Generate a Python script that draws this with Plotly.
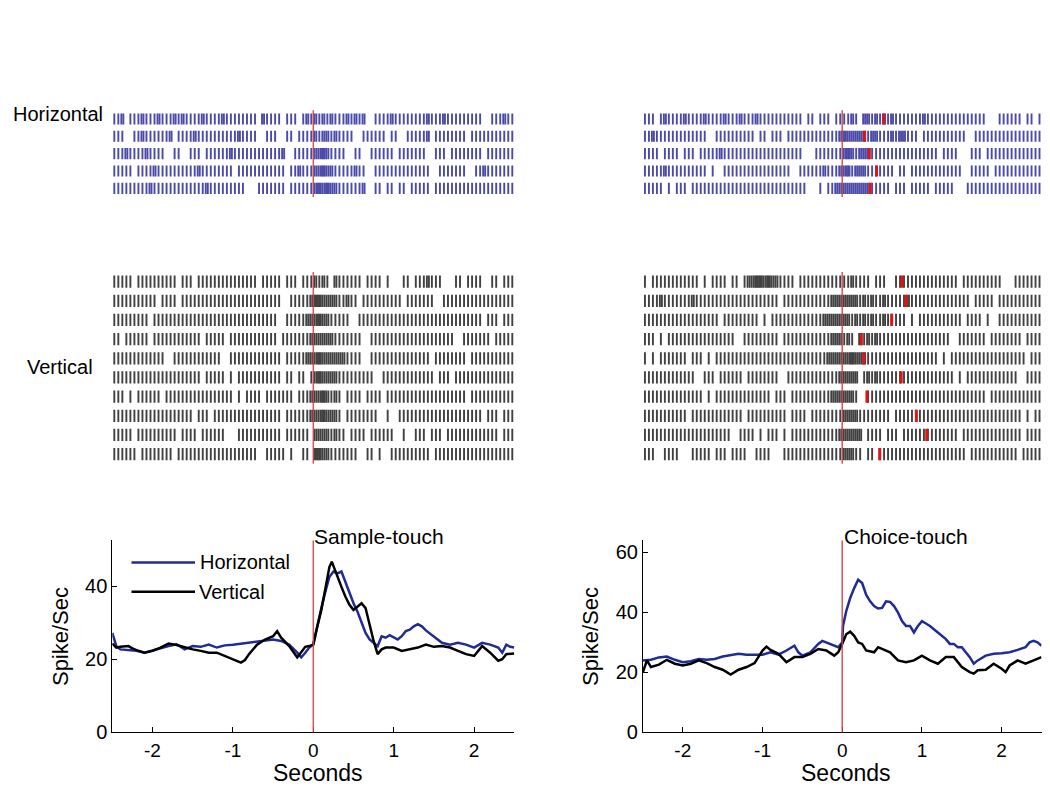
import plotly.graph_objects as go

# page is 1050x800; the HTML body adds an 8px margin, so the figure is offset by 8px
OFF = 8
FW, FH = 1034, 784
BIN = 0.05          # raster bin width (s); each char = spike count in bin
T0 = -2.5

# ---------------- raster data (spike counts per 50 ms bin, -2.5 .. 2.5 s) ----------------
sample_horizontal = [
    "1120111211121112121111211 1121111111102111101110121 2121211121212001111211111 1112111211111111100111211",
    "1110011211111120111121111 1111112111100111001101111 2122121111001111110110011 1112011111111011111111111",
    "1112111121111001100111011 1111211111111111120011111 2232111100110011111101111 1110011101111111101111111",
    "1111101111211111111112111 1111101111111111110112111 2232211111211001111111111 1111001111111001121111111",
    "1111111112111111111111121 1111111100011111110111111 2323221111112001101101101 1111011111111111111111111",
]
choice_horizontal = [
    "1110121111211112111121112 1112111111111110110111011 1121022121212111111121111 1111111111100011111101101",
    "1121111111111111001111111 1110110111011111111111112 3222221221112122111011111 1111110011111111111111111",
    "1111011110111011111211111 1111111111111110001111111 2321222111111111111111110 1111000111011111111111111",
    "1111121111111111010011111 1111111111110011111121112 2312221111111011011111111 1111100111110111111111111",
    "1111101011101111111111111 1111111111111111000101122 2222222111110111011111011 1110001111111111111111111",
]
sample_vertical = [
    "1111101111111111011101111 1111111111101111101110111 2121021111110111101000110 1112111000110111100110111",
    "1111111111101111011111111 1111111111111111100111112 3322221121101111111111011 1111100111111111111111111",
    "1111111110111111111111111 1111111111111111001111122 2322111110011111111111111 1111111111111111101110111",
    "1101111110111111111111011 1110111111111111011111112 2222211111110011111111111 1111111111001111111011111",
    "1111111111111001111111111 1100111111111111101111122 2322222211110011111111111 1111011111111011111111111",
    "1111111111111111111111011 1110101111111111101101101 2322221111111110011111111 1111101110111111111111111",
    "1110101111110111111111111 1111101011110111111101112 2232121011110111101111111 1111111111111011111111111",
    "1111111111111111111101110 1111111111111111101111112 2232221011111111001001111 1111111111111111101110111",
    "1111101111111111011110111 1110001111111111101111110 2222121101111011111100100 1110111011111111111110111",
    "1111110111111110111111111 1111111111100111110100110 3322111111100110100111111 1111011111111111111111111",
]
choice_vertical = [
    "1011111111111101011110110 1223323221111011111111111 1121111011100111111111111 1111011111111110001111111",
    "1111211111112111111111111 1111111110111111111111222 2222121211211111211111111 1111111011111011111111111",
    "1111111111111111111011111 1111010111111111111122222 2212121211211111010111111 1111101111010011111111111",
    "1110101111111111111111100 1111111110111111111111222 1210212121111111111111111 1100111111101111111101111",
    "1010111111101110101111111 1111111111111111111112222 2232221111111111111111110 1011111111111111111110111",
    "1111111111111001110111111 0111111110011111111111112 2222012121111111111111111 1110101111111111111001111",
    "1111111111111110101111111 1111111011101111111111222 2221001111111111111111111 1111111111101111111111111",
    "1111111111101111111111111 0111111111101111011111111 2222111111110111111111111 1111111111111111111101011",
    "1111111111111111111111001 1110101110101111111111112 2222201111011101111111111 1111011111111111111101111",
    "1110011110001111101110111 1001111000111111111111111 2221101101111111111111111 1111110111111111111011111",
]
# times (s) of the red-marked events in the choice rasters, one per trial
choice_horizontal_marks = [0.52, 0.28, 0.34, 0.43, 0.35]
choice_vertical_marks = [0.75, 0.80, 0.62, 0.24, 0.27, 0.74, 0.31, 0.93, 1.06, 0.47]

# ---------------- PSTH data (spikes/s) ----------------
sample_h_t = [-2.5, -2.45, -2.4, -2.3, -2.2, -2.1, -2.0, -1.9, -1.8, -1.7, -1.6, -1.5, -1.4, -1.3, -1.2,
              -1.1, -1.0, -0.9, -0.8, -0.7, -0.6, -0.5, -0.4, -0.3, -0.2, -0.15, -0.1, -0.05, 0.0,
              0.05, 0.1, 0.15, 0.2, 0.25, 0.3, 0.35, 0.4, 0.45, 0.5, 0.55, 0.6, 0.65, 0.7, 0.75, 0.8,
              0.85, 0.9, 0.95, 1.0, 1.05, 1.1, 1.15, 1.2, 1.25, 1.3, 1.35, 1.4, 1.5, 1.6, 1.7, 1.8,
              1.9, 2.0, 2.1, 2.2, 2.3, 2.35, 2.4, 2.45, 2.5]
sample_h_rate = [27.2, 23.6, 22.7, 22.5, 22.3, 21.8, 22.3, 23.0, 23.6, 24.1, 22.7, 23.6, 23.4, 24.0, 23.2,
                 23.8, 24.0, 24.3, 24.5, 25.0, 25.2, 25.4, 25.0, 24.0, 21.8, 20.5, 21.8, 23.2, 24.0,
                 29.5, 34.0, 38.5, 42.5, 44.0, 43.5, 44.0, 41.0, 38.5, 35.3, 33.0, 29.9, 27.2, 25.4, 24.5, 23.6,
                 26.3, 25.9, 26.6, 25.9, 25.4, 26.3, 27.7, 28.1, 29.0, 29.6, 29.0, 27.9, 26.3, 24.5, 24.0, 24.5,
                 24.0, 23.2, 24.5, 24.0, 23.2, 21.8, 24.0, 23.4, 23.2]
sample_v_t = [-2.5, -2.45, -2.4, -2.3, -2.25, -2.2, -2.1, -2.0, -1.9, -1.8, -1.7, -1.6, -1.5, -1.4, -1.3,
              -1.2, -1.1, -1.0, -0.9, -0.85, -0.8, -0.7, -0.6, -0.5, -0.45, -0.4, -0.3, -0.2, -0.15,
              -0.1, -0.05, 0.0, 0.05, 0.1, 0.15, 0.2, 0.23, 0.3, 0.35, 0.4, 0.45, 0.5, 0.55, 0.6, 0.65,
              0.7, 0.75, 0.8, 0.85, 0.9, 1.0, 1.1, 1.2, 1.3, 1.4, 1.5, 1.6, 1.7, 1.8, 1.9, 2.0, 2.1,
              2.2, 2.3, 2.35, 2.4, 2.5]
sample_v_rate = [24.3, 23.2, 23.4, 23.6, 23.0, 22.5, 21.8, 22.3, 23.2, 24.3, 23.9, 23.2, 22.7, 22.3, 21.8,
                 21.8, 20.9, 20.0, 19.1, 19.8, 21.4, 24.0, 25.4, 26.3, 27.7, 25.9, 23.6, 20.5, 21.8,
                 23.4, 23.6, 24.0, 29.0, 33.5, 39.3, 45.2, 46.7, 42.5, 39.8, 37.1, 34.9, 33.5, 34.4, 35.3, 34.0,
                 29.5, 25.0, 21.4, 22.7, 23.2, 23.2, 22.3, 22.7, 23.2, 24.0, 23.4, 23.6, 23.2, 22.3, 21.4, 20.9, 23.6,
                 21.8, 19.6, 20.0, 21.4, 21.6]
choice_h_t = [-2.5, -2.4, -2.3, -2.2, -2.1, -2.0, -1.9, -1.8, -1.7, -1.6, -1.5, -1.4, -1.3, -1.2, -1.1,
              -1.0, -0.9, -0.8, -0.7, -0.6, -0.55, -0.5, -0.4, -0.3, -0.25, -0.2, -0.1, -0.05, 0.0, 0.01,
              0.05, 0.1, 0.15, 0.2, 0.25, 0.3, 0.35, 0.4, 0.45, 0.5, 0.55, 0.6, 0.65, 0.7, 0.75, 0.8,
              0.85, 0.9, 0.95, 1.0, 1.05, 1.1, 1.2, 1.3, 1.35, 1.4, 1.45, 1.5, 1.55, 1.6, 1.65, 1.7,
              1.8, 1.9, 2.0, 2.1, 2.2, 2.3, 2.35, 2.4, 2.45, 2.5]
choice_h_rate = [24.0, 24.2, 25.0, 25.3, 24.2, 23.4, 23.7, 24.5, 24.2, 24.5, 25.3, 25.8, 26.2, 25.9, 25.8,
                 25.9, 26.7, 25.9, 27.3, 28.9, 26.7, 25.6, 26.7, 29.5, 30.5, 30.0, 28.9, 28.4, 30.0, 35.5,
                 40.4, 44.8, 48.1, 50.9, 49.8, 45.9, 43.7, 42.1, 41.3, 41.5, 43.7, 43.5, 42.1, 39.9, 37.1, 35.5,
                 35.5, 33.3, 35.5, 37.1, 36.3, 35.5, 33.3, 31.1, 29.5, 29.5, 28.4, 28.4, 26.7, 25.1, 22.9, 24.0,
                 25.6, 26.2, 26.4, 26.7, 27.5, 28.4, 30.0, 30.5, 30.0, 28.9]
choice_v_t = [-2.5, -2.45, -2.4, -2.3, -2.2, -2.1, -2.0, -1.9, -1.8, -1.7, -1.6, -1.5, -1.4, -1.3, -1.2,
              -1.1, -1.0, -0.95, -0.9, -0.8, -0.7, -0.6, -0.5, -0.4, -0.3, -0.2, -0.1, -0.05, 0.0,
              0.05, 0.1, 0.15, 0.2, 0.25, 0.3, 0.4, 0.45, 0.5, 0.6, 0.7, 0.8, 0.9, 1.0, 1.1, 1.2,
              1.3, 1.4, 1.5, 1.6, 1.65, 1.7, 1.8, 1.9, 2.0, 2.05, 2.1, 2.2, 2.3, 2.4, 2.5]
choice_v_rate = [20.1, 24.0, 21.8, 22.6, 24.2, 22.9, 22.3, 22.9, 24.0, 23.1, 21.8, 20.9, 19.3, 20.9, 21.8,
                 23.1, 27.3, 28.6, 27.5, 26.2, 23.4, 25.1, 25.1, 26.2, 27.8, 27.3, 25.6, 26.7, 29.5,
                 32.7, 33.6, 32.2, 30.0, 29.5, 27.3, 26.7, 28.4, 27.8, 26.7, 24.0, 23.4, 24.0, 25.6, 24.0, 22.9,
                 25.1, 25.1, 21.8, 20.1, 19.6, 20.7, 20.9, 22.9, 21.2, 20.1, 22.3, 24.0, 22.9, 24.0, 25.1]

x_tick_vals = [-2, -1, 0, 1, 2]
x_tick_labels = ["-2", "-1", "0", "1", "2"]
sample_y_ticks = [0, 20, 40]
choice_y_ticks = [0, 20, 40, 60]
row_labels = ["Horizontal", "Vertical"]
event_titles = ["Sample-touch", "Choice-touch"]
legend_names = ["Horizontal", "Vertical"]

# ---------------- styling ----------------
FONT = "Arial, Liberation Sans, sans-serif"
BLUE_TICK = "rgb(74,74,168)"
GRAY_TICK = "rgb(65,65,65)"
BLUE_LINE = "rgb(32,44,150)"
RED_LINE = "rgba(205,70,70,0.9)"
MARK_RED = "rgb(225,20,20)"
HALF = 0.32


def px_x(a, b):
    return [(a - OFF) / FW, (b - OFF) / FW]


def px_y(top, bottom):
    return [1 - (bottom - OFF) / FH, 1 - (top - OFF) / FH]


def pxx(x):
    return (x - OFF) / FW


def pxy(y):
    return 1 - (y - OFF) / FH


def raster_xy(rows):
    xs, ys = [], []
    for r, row in enumerate(rows, start=1):
        s = row.replace(" ", "")
        for i, ch in enumerate(s):
            n = int(ch)
            for k in range(n):
                t = T0 + BIN * i + BIN * (k + 0.5) / n
                xs += [t, t, None]
                ys += [r - HALF, r + HALF, None]
    return xs, ys


def marks_xy(marks):
    xs, ys = [], []
    for r, t in enumerate(marks, start=1):
        xs += [t, t, None]
        ys += [r - HALF, r + HALF, None]
    return xs, ys


fig = go.Figure()

panels = [
    (sample_horizontal, BLUE_TICK, "x", "y", None),
    (choice_horizontal, BLUE_TICK, "x2", "y2", choice_horizontal_marks),
    (sample_vertical, GRAY_TICK, "x3", "y3", None),
    (choice_vertical, GRAY_TICK, "x4", "y4", choice_vertical_marks),
]
for rows, col, xa, ya, marks in panels:
    xs, ys = raster_xy(rows)
    fig.add_trace(go.Scatter(x=xs, y=ys, mode="lines", line=dict(color=col, width=1.9),
                             xaxis=xa, yaxis=ya, hoverinfo="skip"))
    if marks:
        mx, my = marks_xy(marks)
        fig.add_trace(go.Scatter(x=mx, y=my, mode="lines", line=dict(color=MARK_RED, width=3),
                                 xaxis=xa, yaxis=ya, hoverinfo="skip"))

# PSTHs
fig.add_trace(go.Scatter(x=sample_h_t, y=sample_h_rate, mode="lines", name=legend_names[0],
                         line=dict(color=BLUE_LINE, width=2.5), xaxis="x5", yaxis="y5"))
fig.add_trace(go.Scatter(x=sample_v_t, y=sample_v_rate, mode="lines", name=legend_names[1],
                         line=dict(color="black", width=2.5), xaxis="x5", yaxis="y5"))
fig.add_trace(go.Scatter(x=choice_h_t, y=choice_h_rate, mode="lines", name=legend_names[0],
                         line=dict(color=BLUE_LINE, width=2.5), xaxis="x6", yaxis="y6"))
fig.add_trace(go.Scatter(x=choice_v_t, y=choice_v_rate, mode="lines", name=legend_names[1],
                         line=dict(color="black", width=2.5), xaxis="x6", yaxis="y6"))

LX = px_x(112.3, 514.3)
RX = px_x(642.95, 1041.5)
HY = px_y(111.7, 199.8)
VY = px_y(275.8, 470.2)
PY = px_y(548.0, 742.7)

hidden = dict(visible=False, showgrid=False, zeroline=False)
xr = [-2.5, 2.5]
layout = dict(
    width=FW, height=FH, margin=dict(l=0, r=0, t=0, b=0),
    paper_bgcolor="white", plot_bgcolor="white", showlegend=False,
    font=dict(family=FONT, color="black"),
    xaxis=dict(domain=LX, range=xr, anchor="y", **hidden),
    yaxis=dict(domain=HY, range=[len(sample_horizontal) + 0.5, 0.5], anchor="x", **hidden),
    xaxis2=dict(domain=RX, range=xr, anchor="y2", **hidden),
    yaxis2=dict(domain=HY, range=[len(choice_horizontal) + 0.5, 0.5], anchor="x2", **hidden),
    xaxis3=dict(domain=LX, range=xr, anchor="y3", **hidden),
    yaxis3=dict(domain=VY, range=[len(sample_vertical) + 0.5, 0.5], anchor="x3", **hidden),
    xaxis4=dict(domain=RX, range=xr, anchor="y4", **hidden),
    yaxis4=dict(domain=VY, range=[len(choice_vertical) + 0.5, 0.5], anchor="x4", **hidden),
)
axis_common = dict(showline=True, linecolor="black", linewidth=1, ticks="inside", ticklen=5,
                   tickcolor="black", showgrid=False, zeroline=False)
yfont = dict(size=20, family=FONT, color="black")
xfont = dict(size=19, family=FONT, color="black")
layout["xaxis5"] = dict(domain=LX, range=xr, anchor="y5", tickvals=x_tick_vals, ticktext=x_tick_labels,
                        ticklabelstandoff=1, tickfont=xfont, **axis_common)
layout["yaxis5"] = dict(domain=PY, range=[0, 52.5], anchor="x5", tickvals=sample_y_ticks,
                        tickfont=yfont, **axis_common)
layout["xaxis6"] = dict(domain=RX, range=xr, anchor="y6", tickvals=x_tick_vals, ticktext=x_tick_labels,
                        ticklabelstandoff=1, tickfont=xfont, **axis_common)
layout["yaxis6"] = dict(domain=PY, range=[0, 64], anchor="x6", tickvals=choice_y_ticks,
                        tickfont=yfont, **axis_common)
fig.update_layout(**layout)

# event lines at t = 0
shapes = []
for xa, ya in [("x", "y"), ("x2", "y2"), ("x3", "y3"), ("x4", "y4"), ("x5", "y5"), ("x6", "y6")]:
    shapes.append(dict(type="line", xref=xa, yref=ya + " domain", x0=0, x1=0, y0=0, y1=1,
                       line=dict(color=RED_LINE, width=1.5), layer="above"))
# legend sample lines (left PSTH)
shapes.append(dict(type="line", xref="paper", yref="paper", x0=pxx(131.5), x1=pxx(195),
                   y0=pxy(570.5), y1=pxy(570.5), line=dict(color=BLUE_LINE, width=2.5)))
shapes.append(dict(type="line", xref="paper", yref="paper", x0=pxx(131.5), x1=pxx(195),
                   y0=pxy(600), y1=pxy(600), line=dict(color="black", width=2.5)))
fig.update_layout(shapes=shapes)

ann = []


def text(s, x, y, size, xanchor="left", angle=0):
    ann.append(dict(text=s, x=pxx(x), y=pxy(y), xref="paper", yref="paper", showarrow=False,
                    xanchor=xanchor, yanchor="middle", textangle=angle,
                    font=dict(size=size, family=FONT, color="black")))


text(row_labels[0], 11, 116, 20)
text(row_labels[1], 25, 372, 20)
text(event_titles[0], 312, 544, 21)
text(event_titles[1], 842, 544, 21)
text(legend_names[0], 198, 570, 20)
text(legend_names[1], 197, 600, 20)
text("Seconds", 318, 783.5, 23, xanchor="center")
text("Seconds", 846, 783.5, 23, xanchor="center")
text("Spike/Sec", 60, 646, 22, xanchor="center", angle=-90)
text("Spike/Sec", 590, 646, 22, xanchor="center", angle=-90)
fig.update_layout(annotations=ann)

fig.write_html("out.html")
